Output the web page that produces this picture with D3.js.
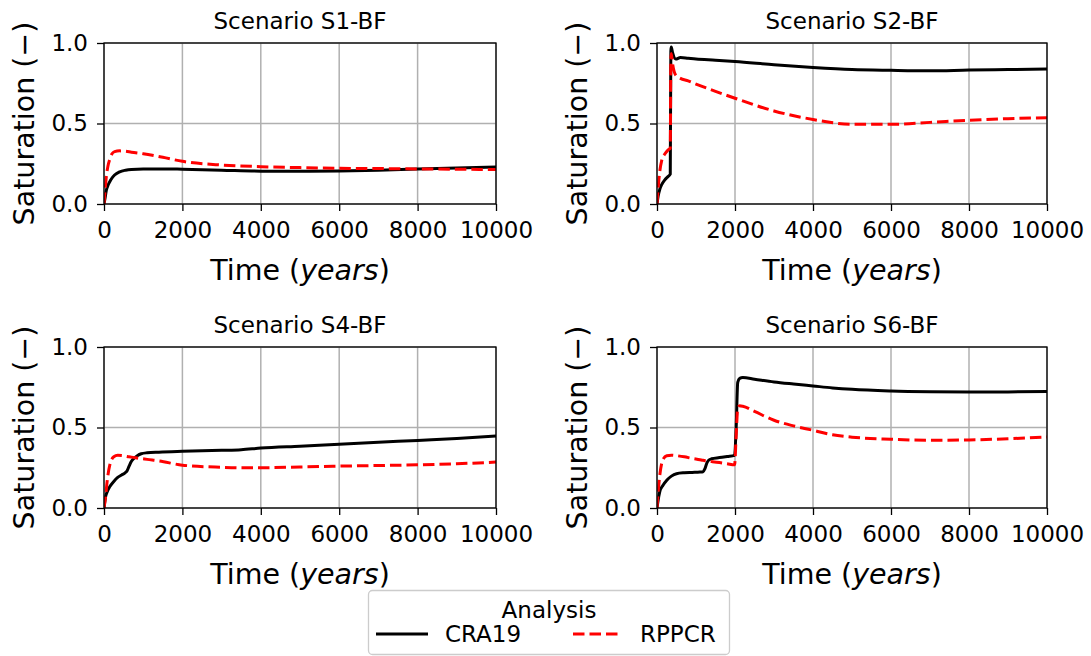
<!DOCTYPE html>
<html>
<head>
<meta charset="utf-8">
<script src="https://cdn.jsdelivr.net/npm/d3@7"></script>
<style>
  html, body { margin: 0; padding: 0; background: #fff; }
  svg { display: block; font-family: "DejaVu Sans", sans-serif; }
</style>
</head>
<body>
<svg id="chart" width="1091" height="656"></svg>
<script>
// Saturation over time for four backfill scenarios, two analyses each.
const xTicks = [0, 2000, 4000, 6000, 8000, 10000];
const yTicks = [0.0, 0.5, 1.0];
const scenarioTitles = ["Scenario S1-BF", "Scenario S2-BF", "Scenario S4-BF", "Scenario S6-BF"];
const seriesNames = ["CRA19", "RPPCR"];

// Scenario S1-BF
const s1Time  = [0, 30, 60, 100, 150, 200, 270, 400, 550, 700, 1000, 1500, 2000, 3000, 4000, 5000, 6000, 7000, 8000, 9000, 10000];
const s1Cra19 = [0, 0.04, 0.085, 0.115, 0.14, 0.16, 0.18, 0.2, 0.21, 0.215, 0.218, 0.218, 0.216, 0.21, 0.204, 0.203, 0.205, 0.21, 0.217, 0.223, 0.23];
const s1Rppcr = [0, 0.09, 0.17, 0.235, 0.28, 0.31, 0.325, 0.33, 0.328, 0.322, 0.312, 0.29, 0.265, 0.242, 0.232, 0.226, 0.222, 0.22, 0.218, 0.216, 0.214];

// Scenario S2-BF
const s2Time  = [0, 30, 70, 120, 200, 280, 340, 355, 365, 400, 480, 600, 800, 1000, 1500, 2000, 3000, 4000, 5000, 6000, 7000, 8000, 9000, 10000];
const s2Cra19 = [0, 0.05, 0.09, 0.12, 0.15, 0.17, 0.185, 0.95, 0.975, 0.94, 0.9, 0.91, 0.905, 0.9, 0.893, 0.885, 0.865, 0.848, 0.835, 0.83, 0.827, 0.832, 0.835, 0.838];
const s2Rppcr = [0, 0.1, 0.2, 0.27, 0.31, 0.335, 0.345, 0.9, 0.935, 0.87, 0.8, 0.78, 0.765, 0.745, 0.7, 0.657, 0.578, 0.525, 0.495, 0.495, 0.507, 0.52, 0.53, 0.536];

// Scenario S4-BF
const s4Time  = [0, 40, 80, 150, 250, 350, 450, 530, 590, 640, 700, 780, 850, 950, 1100, 1400, 2000, 3000, 3500, 4000, 5000, 6000, 7000, 8000, 9000, 10000];
const s4Cra19 = [0, 0.07, 0.1, 0.133, 0.165, 0.19, 0.205, 0.217, 0.232, 0.26, 0.29, 0.312, 0.325, 0.337, 0.343, 0.347, 0.352, 0.358, 0.362, 0.372, 0.384, 0.396, 0.408, 0.42, 0.432, 0.447];
const s4Rppcr = [0, 0.07, 0.165, 0.27, 0.318, 0.327, 0.326, 0.323, 0.32, 0.318, 0.316, 0.313, 0.31, 0.307, 0.302, 0.293, 0.266, 0.253, 0.25, 0.25, 0.255, 0.26, 0.264, 0.268, 0.275, 0.285];

// Scenario S6-BF
const s6Time  = [0, 30, 70, 150, 250, 370, 500, 700, 900, 1100, 1180, 1230, 1280, 1330, 1400, 1600, 1800, 1990, 2030, 2070, 2120, 2200, 2500, 3000, 3500, 4000, 4500, 5000, 6000, 7000, 8000, 9000, 10000];
const s6Cra19 = [0, 0.05, 0.1, 0.14, 0.172, 0.198, 0.213, 0.219, 0.221, 0.223, 0.225, 0.245, 0.28, 0.298, 0.306, 0.313, 0.32, 0.327, 0.5, 0.78, 0.805, 0.81, 0.8, 0.783, 0.77, 0.758, 0.746, 0.737, 0.727, 0.722, 0.72, 0.721, 0.724];
const s6Rppcr = [0, 0.1, 0.2, 0.3, 0.325, 0.328, 0.325, 0.318, 0.308, 0.3, 0.296, 0.294, 0.292, 0.29, 0.288, 0.282, 0.275, 0.268, 0.45, 0.62, 0.635, 0.632, 0.6, 0.545, 0.51, 0.483, 0.455, 0.44, 0.427, 0.421, 0.423, 0.43, 0.441];

const panels = [
  { title: scenarioTitles[0], time: s1Time, series: [s1Cra19, s1Rppcr], left: 104, right: 496, top: 43, bottom: 204 },
  { title: scenarioTitles[1], time: s2Time, series: [s2Cra19, s2Rppcr], left: 657, right: 1047, top: 43, bottom: 204 },
  { title: scenarioTitles[2], time: s4Time, series: [s4Cra19, s4Rppcr], left: 104, right: 496, top: 347, bottom: 508 },
  { title: scenarioTitles[3], time: s6Time, series: [s6Cra19, s6Rppcr], left: 657, right: 1047, top: 347, bottom: 508 }
];

const styles = [
  { color: "#000000", dash: null },
  { color: "#ff0000", dash: "11.5,5" }
];
const lineWidth = 3;
const fontSize = 23;
const labelSize = 28.5;

const svg = d3.select("#chart");

panels.forEach((p, i) => {
  const x = d3.scaleLinear().domain([0, 10000]).range([p.left, p.right]);
  const y = d3.scaleLinear().domain([0, 1]).range([p.bottom, p.top]);
  const g = svg.append("g");

  const clipId = "clip" + i;
  svg.append("clipPath").attr("id", clipId)
    .append("rect")
    .attr("x", p.left).attr("y", p.top)
    .attr("width", p.right - p.left).attr("height", p.bottom - p.top);

  // grid
  g.append("g").selectAll("line").data(xTicks).join("line")
    .attr("x1", d => x(d)).attr("x2", d => x(d))
    .attr("y1", p.top).attr("y2", p.bottom)
    .attr("stroke", "#b0b0b0").attr("stroke-width", 1.5);
  g.append("g").selectAll("line").data(yTicks).join("line")
    .attr("y1", d => y(d)).attr("y2", d => y(d))
    .attr("x1", p.left).attr("x2", p.right)
    .attr("stroke", "#b0b0b0").attr("stroke-width", 1.5);

  // series
  const line = d3.line()
    .x((d, k) => x(p.time[k]))
    .y(d => y(d))
    .curve(d3.curveMonotoneX);
  p.series.forEach((vals, s) => {
    g.append("path")
      .attr("clip-path", `url(#${clipId})`)
      .attr("d", line(vals))
      .attr("fill", "none")
      .attr("stroke", styles[s].color)
      .attr("stroke-width", lineWidth)
      .attr("stroke-linejoin", "round")
      .attr("stroke-dasharray", styles[s].dash);
  });

  // axes
  const xAxis = d3.axisBottom(x).tickValues(xTicks).tickFormat(d3.format("d"))
    .tickSize(7).tickPadding(11).tickSizeOuter(0);
  const yAxis = d3.axisLeft(y).tickValues(yTicks).tickFormat(d3.format(".1f"))
    .tickSize(7).tickPadding(9).tickSizeOuter(0);

  const gx = g.append("g").attr("transform", `translate(0,${p.bottom})`).call(xAxis);
  const gy = g.append("g").attr("transform", `translate(${p.left},0)`).call(yAxis);
  [gx, gy].forEach(a => {
    a.select(".domain").remove();
    a.selectAll(".tick line").attr("stroke", "#000").attr("stroke-width", 1.3);
    a.selectAll(".tick text").attr("fill", "#000")
      .style("font-size", fontSize + "px").style("font-family", "DejaVu Sans");
  });

  // frame
  g.append("rect")
    .attr("x", p.left).attr("y", p.top)
    .attr("width", p.right - p.left).attr("height", p.bottom - p.top)
    .attr("fill", "none").attr("stroke", "#000").attr("stroke-width", 1.3);

  // title
  g.append("text")
    .attr("x", (p.left + p.right) / 2).attr("y", p.top - 14)
    .attr("text-anchor", "middle")
    .style("font-size", fontSize + "px")
    .text(p.title);

  // x label
  const xl = g.append("text")
    .attr("x", (p.left + p.right) / 2).attr("y", p.bottom + 76)
    .attr("text-anchor", "middle")
    .style("font-size", labelSize + "px");
  xl.append("tspan").text("Time (");
  xl.append("tspan").style("font-style", "italic").text("years");
  xl.append("tspan").text(")");

  // y label
  g.append("text")
    .attr("transform", `translate(${p.left - 70},${(p.top + p.bottom) / 2}) rotate(-90)`)
    .attr("text-anchor", "middle")
    .style("font-size", labelSize + "px")
    .text("Saturation (\u2212)");
});

// legend
const lg = svg.append("g");
lg.append("rect")
  .attr("x", 368.5).attr("y", 590.5).attr("width", 361).attr("height", 64)
  .attr("rx", 4).attr("fill", "#fff").attr("fill-opacity", 0.8)
  .attr("stroke", "#cccccc").attr("stroke-width", 1.3);
lg.append("text")
  .attr("x", 549).attr("y", 618)
  .attr("text-anchor", "middle")
  .style("font-size", fontSize + "px")
  .text("Analysis");
const legendItems = [
  { x0: 376, x1: 428, tx: 445 },
  { x0: 573, x1: 622, tx: 640 }
];
seriesNames.forEach((name, s) => {
  const it = legendItems[s];
  lg.append("line")
    .attr("x1", it.x0).attr("x2", it.x1).attr("y1", 634).attr("y2", 634)
    .attr("stroke", styles[s].color).attr("stroke-width", lineWidth)
    .attr("stroke-dasharray", styles[s].dash);
  lg.append("text")
    .attr("x", it.tx).attr("y", 642)
    .style("font-size", fontSize + "px")
    .text(name);
});
</script>
</body>
</html>
